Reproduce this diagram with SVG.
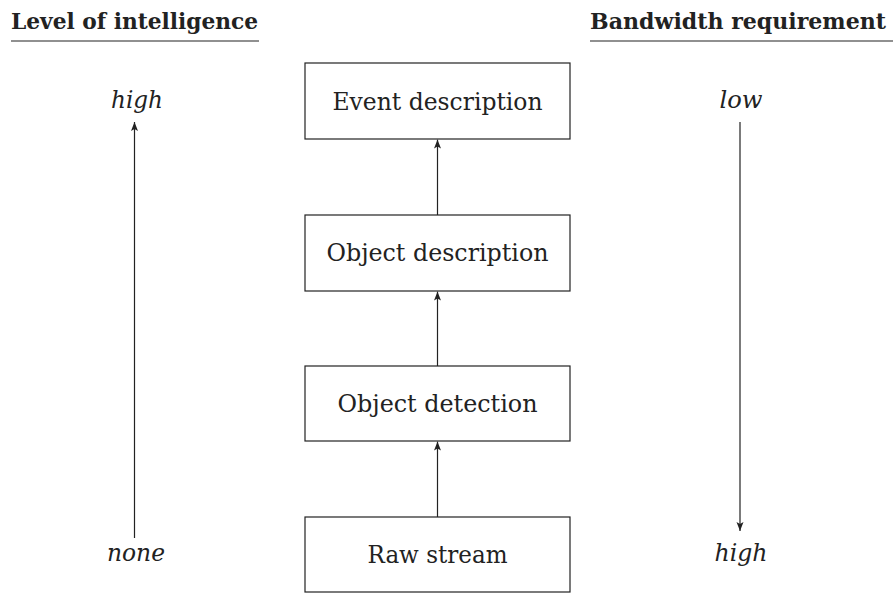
<svg xmlns="http://www.w3.org/2000/svg" width="893" height="593" viewBox="0 0 893 593">
<style>
.box{fill:#fff;stroke:#222;stroke-width:1.2}
.lbl{font-family:"DejaVu Serif","Liberation Serif",serif;font-size:25px;fill:#222;text-anchor:middle}
.it{font-family:"DejaVu Serif","Liberation Serif",serif;font-size:25px;font-style:italic;fill:#222;text-anchor:middle}
.hd{font-family:"DejaVu Serif","Liberation Serif",serif;font-size:22px;font-weight:bold;fill:#222}
.ln{stroke:#222;stroke-width:1.2;fill:none}
</style>
<defs>
<marker id="ah" viewBox="0 0 9 9" refX="9" refY="4.5" markerWidth="9" markerHeight="9" markerUnits="userSpaceOnUse" orient="auto">
<path d="M0,1 L9,4.5 L0,8 L2,4.5 Z" fill="#222"/>
</marker>
</defs>
<rect width="893" height="593" fill="#fff"/>
<g id="header-left">
<text class="hd" x="11" y="29" textLength="247" lengthAdjust="spacingAndGlyphs">Level of intelligence</text>
<line class="ln" x1="11" y1="41" x2="259" y2="41"/>
</g>
<g id="header-right">
<text class="hd" x="590" y="29" textLength="296" lengthAdjust="spacingAndGlyphs">Bandwidth requirement</text>
<line class="ln" x1="590" y1="41" x2="893" y2="41"/>
</g>
<g id="n-event">
<rect class="box" x="305" y="63" width="265" height="76"/>
<text class="lbl" x="437.5" y="110" textLength="210" lengthAdjust="spacingAndGlyphs">Event description</text>
</g>
<g id="n-objdesc">
<rect class="box" x="305" y="215" width="265" height="76"/>
<text class="lbl" x="437.5" y="261" textLength="222" lengthAdjust="spacingAndGlyphs">Object description</text>
</g>
<g id="n-objdet">
<rect class="box" x="305" y="366" width="265" height="75"/>
<text class="lbl" x="437.5" y="412" textLength="200" lengthAdjust="spacingAndGlyphs">Object detection</text>
</g>
<g id="n-raw">
<rect class="box" x="305" y="517" width="265" height="75"/>
<text class="lbl" x="437.5" y="563" textLength="140" lengthAdjust="spacingAndGlyphs">Raw stream</text>
</g>
<g id="scale-left">
<text class="it" x="137" y="108" textLength="52" lengthAdjust="spacingAndGlyphs">high</text>
<text class="it" x="136" y="561" textLength="58" lengthAdjust="spacingAndGlyphs">none</text>
</g>
<g id="scale-right">
<text class="it" x="741" y="108" textLength="43" lengthAdjust="spacingAndGlyphs">low</text>
<text class="it" x="741" y="561" textLength="53" lengthAdjust="spacingAndGlyphs">high</text>
</g>
<g id="connectors">
<line class="ln" x1="437.5" y1="215" x2="437.5" y2="139.6" marker-end="url(#ah)"/>
<line class="ln" x1="437.5" y1="366" x2="437.5" y2="291.6" marker-end="url(#ah)"/>
<line class="ln" x1="437.5" y1="517" x2="437.5" y2="441.6" marker-end="url(#ah)"/>
<line class="ln" x1="134.5" y1="538" x2="134.5" y2="122" marker-end="url(#ah)"/>
<line class="ln" x1="740" y1="122" x2="740" y2="531" marker-end="url(#ah)"/>
</g>
</svg>
